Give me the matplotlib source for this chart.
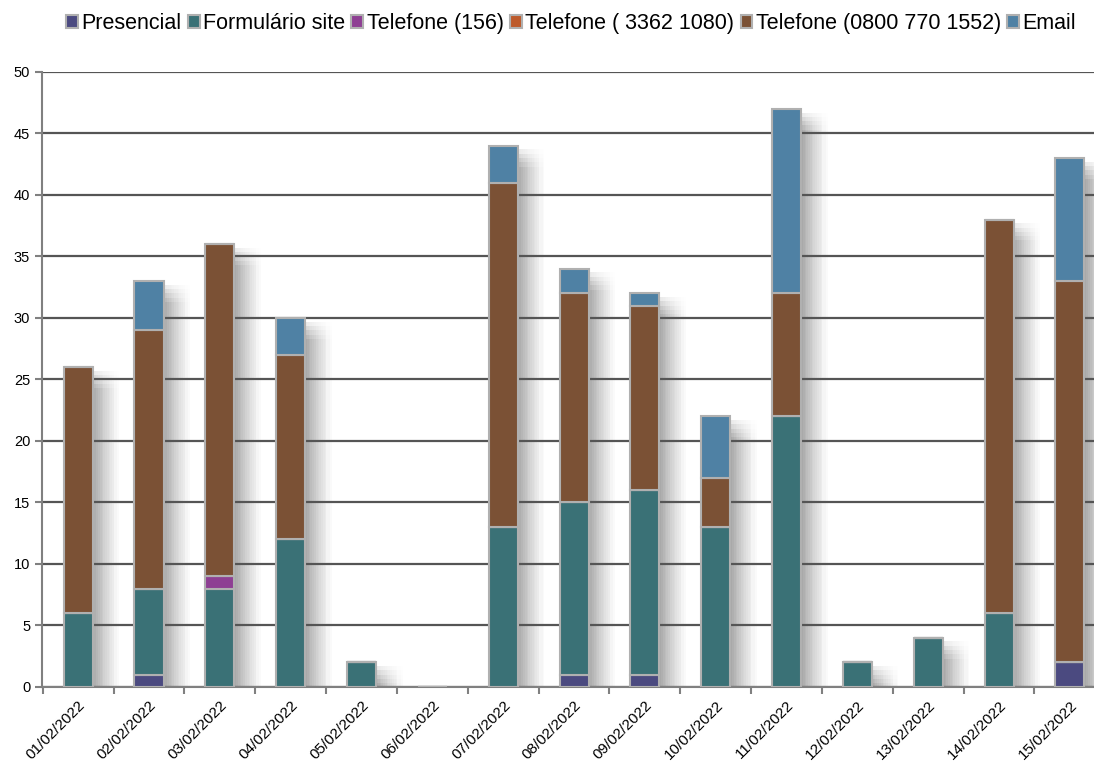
import matplotlib.pyplot as plt
import numpy as np

plt.rcParams['font.family'] = ['Liberation Sans', 'DejaVu Sans']

dates = ['01/02/2022', '02/02/2022', '03/02/2022', '04/02/2022', '05/02/2022',
         '06/02/2022', '07/02/2022', '08/02/2022', '09/02/2022', '10/02/2022',
         '11/02/2022', '12/02/2022', '13/02/2022', '14/02/2022', '15/02/2022']

presencial = [0, 1, 0, 0, 0, 0, 0, 1, 1, 0, 0, 0, 0, 0, 2]
formulario = [6, 7, 8, 12, 2, 0, 13, 14, 15, 13, 22, 2, 4, 6, 0]
tel_156 = [0, 0, 1, 0, 0, 0, 0, 0, 0, 0, 0, 0, 0, 0, 0]
tel_3362 = [0, 0, 0, 0, 0, 0, 0, 0, 0, 0, 0, 0, 0, 0, 0]
tel_0800 = [20, 21, 27, 15, 0, 0, 28, 17, 15, 4, 10, 0, 0, 32, 31]
email = [0, 4, 0, 3, 0, 0, 3, 2, 1, 5, 15, 0, 0, 0, 10]

series = [
    ('Presencial', presencial, '#4b4a80'),
    ('Formulário site', formulario, '#3a7176'),
    ('Telefone (156)', tel_156, '#8e3f93'),
    ('Telefone ( 3362 1080)', tel_3362, '#bd5a2b'),
    ('Telefone (0800 770 1552)', tel_0800, '#7b5135'),
    ('Email', email, '#4f81a4'),
]

fig = plt.figure(figsize=(10.94, 7.65), dpi=100)
ax = fig.add_axes([0.0384, 0.102, 0.9616, 0.804])

x = np.arange(len(dates))
w = 0.41
totals = np.sum([s[1] for s in series], axis=0)
has = totals > 0

# soft blurred shadow to the right of each bar
steps = 16
layers = 5
for j in range(steps):
    a = 0.45 * (1 - j / steps) ** 1.6
    for k in range(layers):
        h = np.maximum(totals[has] - 0.3 - 0.35 * k, 0)
        ax.bar(x[has] + w / 2 + 0.025 * j + 0.0125, h, width=0.025,
               color='#555555', alpha=a / layers * 1.4, linewidth=0, zorder=1)

bottom = np.zeros(len(dates))
for name, vals, col in series:
    vals = np.array(vals, dtype=float)
    ax.bar(x, vals, bottom=bottom, width=w, color=col, edgecolor='#b0b0b0',
           linewidth=1.5, label=name, zorder=3)
    bottom += vals

ax.set_ylim(0, 50)
ax.set_xlim(-0.51, 14.34)
ax.set_yticks(range(0, 51, 5))
ax.yaxis.grid(True, color='#555555', linewidth=1.6)
ax.set_axisbelow(True)
ax.set_xticks(x)
ax.set_xticklabels(dates, rotation=45, ha='right', rotation_mode='anchor', fontsize=11)
ax.set_xticks(np.arange(-0.5, 14.5, 1), minor=True)
ax.tick_params(axis='x', which='major', length=0, pad=8)
ax.tick_params(axis='x', which='minor', length=5, color='#808080', width=1.5)
ax.tick_params(axis='y', labelsize=10.5, length=5, color='#808080', width=1.5)
for side in ['top', 'right']:
    ax.spines[side].set_visible(False)
ax.spines['left'].set_color('#808080')
ax.spines['left'].set_linewidth(1.5)
ax.spines['bottom'].set_color('#808080')
ax.spines['bottom'].set_linewidth(1.5)

fig.legend(loc='center', bbox_to_anchor=(0.522, 0.969), ncol=6, frameon=False,
           fontsize=15.5, handlelength=0.55, handleheight=0.55, handletextpad=0.15,
           columnspacing=0.3, borderpad=0)

fig.savefig('out.png', dpi=100)
